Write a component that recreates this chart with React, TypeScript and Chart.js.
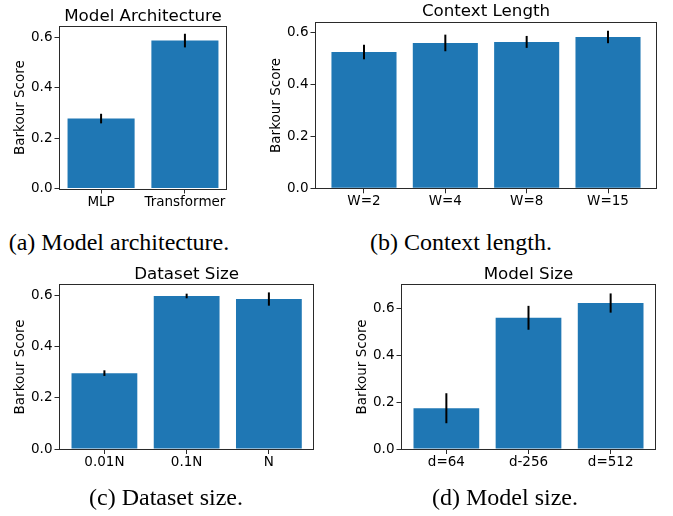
import React, { useEffect, useRef } from 'react';
import { Chart, registerables } from 'chart.js';

Chart.register(...registerables);
Chart.defaults.font.family = 'DejaVu Sans';

// ---- data ----
const archLabels = ['MLP', 'Transformer'];
const archValues = [0.277, 0.586];
const archErrors = [0.019, 0.027];

const ctxLabels = ['W=2', 'W=4', 'W=8', 'W=15'];
const ctxValues = [0.525, 0.56, 0.564, 0.583];
const ctxErrors = [0.028, 0.032, 0.023, 0.024];

const dataLabels = ['0.01N', '0.1N', 'N'];
const dataValues = [0.297, 0.599, 0.587];
const dataErrors = [0.011, 0.009, 0.026];

const sizeLabels = ['d=64', 'd-256', 'd=512'];
const sizeValues = [0.174, 0.56, 0.623];
const sizeErrors = [0.064, 0.051, 0.041];

const yTicks = [0, 0.2, 0.4, 0.6];
const yLabel = 'Barkour Score';

const XH = 30;
const TICK_FONT = { size: 13.5, family: 'DejaVu Sans', lineHeight: 1.2 };
const TITLE_SIZE = 16.7;
const SPINE = '#2a2a2a';

type PanelCfg = {
  title: string;
  caption: string;
  labels: string[];
  values: number[];
  errors: number[];
  ymax: number;
  box: { x: number; y: number; w: number; h: number };
  plot: { L: number; T: number; R: number; B: number };
  titlePad: number;
  yTitlePad: number;
  capX: number;
  capBase: number;
};

const panels: PanelCfg[] = [
  {
    title: 'Model Architecture', caption: '(a) Model architecture.',
    labels: archLabels, values: archValues, errors: archErrors, ymax: 0.641,
    box: { x: 0, y: 0, w: 240, h: 228 }, plot: { L: 60, T: 26.7, R: 226, B: 188.5 },
    titlePad: 6.2, yTitlePad: 12, capX: 119, capBase: 250,
  },
  {
    title: 'Context Length', caption: '(b) Context length.',
    labels: ctxLabels, values: ctxValues, errors: ctxErrors, ymax: 0.638,
    box: { x: 245, y: 0, w: 428, h: 228 }, plot: { L: 316, T: 22.7, R: 656, B: 188.3 },
    titlePad: 1.2, yTitlePad: 23, capX: 461, capBase: 250,
  },
  {
    title: 'Dataset Size', caption: '(c) Dataset size.',
    labels: dataLabels, values: dataValues, errors: dataErrors, ymax: 0.642,
    box: { x: 0, y: 258, w: 330, h: 258 }, plot: { L: 60, T: 285, R: 313.3, B: 449 },
    titlePad: 6.6, yTitlePad: 12, capX: 166, capBase: 505,
  },
  {
    title: 'Model Size', caption: '(d) Model size.',
    labels: sizeLabels, values: sizeValues, errors: sizeErrors, ymax: 0.70,
    box: { x: 335, y: 258, w: 338, h: 258 }, plot: { L: 402, T: 285, R: 655, B: 449 },
    titlePad: 6.6, yTitlePad: 19.5, capX: 505, capBase: 505,
  },
];

const errorPlugin = {
  id: 'errbars',
  afterDatasetsDraw(chart: any, _args: any, opts: any) {
    const { ctx, scales } = chart;
    const vals: number[] = opts.values;
    const errs: number[] = opts.errors;
    ctx.save();
    ctx.strokeStyle = '#000';
    ctx.lineWidth = 2;
    vals.forEach((v, i) => {
      const x = scales.x.getPixelForValue(i);
      const y1 = scales.y.getPixelForValue(v - errs[i]);
      const y2 = scales.y.getPixelForValue(v + errs[i]);
      ctx.beginPath();
      ctx.moveTo(x, y1);
      ctx.lineTo(x, y2);
      ctx.stroke();
    });
    ctx.restore();
  },
};

const framePlugin = {
  id: 'frame',
  afterDraw(chart: any) {
    const { ctx, chartArea: a } = chart;
    ctx.save();
    ctx.strokeStyle = SPINE;
    ctx.lineWidth = 1;
    const l = Math.round(a.left) - 0.5;
    const t = Math.round(a.top) - 0.5;
    const r = Math.round(a.right) + 0.5;
    const b = Math.round(a.bottom) + 0.5;
    ctx.strokeRect(l, t, r - l, b - t);
    ctx.restore();
  },
};

function Panel({ p }: { p: PanelCfg }) {
  const ref = useRef<HTMLCanvasElement>(null);
  useEffect(() => {
    const { box, plot } = p;
    const n = p.labels.length;
    const span = n - 1 + 0.8;
    const xmin = -0.4 - 0.05 * span;
    const xmax = n - 1 + 0.4 + 0.05 * span;
    const titleLH = TITLE_SIZE * 1.2;
    const chart = new Chart(ref.current as HTMLCanvasElement, {
      type: 'bar',
      data: {
        datasets: [
          {
            data: p.values.map((v, i) => ({ x: i, y: v })),
            backgroundColor: '#1f77b4',
            borderWidth: 0,
            barPercentage: 0.8,
            categoryPercentage: 1,
          } as any,
        ],
      },
      options: {
        responsive: false,
        animation: false,
        devicePixelRatio: 1,
        layout: {
          padding: {
            left: 0,
            top: 0,
            right: box.x + box.w - plot.R,
            bottom: box.y + box.h - plot.B - XH,
          },
        },
        plugins: {
          legend: { display: false },
          tooltip: { enabled: false },
          title: {
            display: true,
            text: p.title,
            fullSize: false,
            color: '#000',
            font: { size: TITLE_SIZE, family: 'DejaVu Sans', weight: 'normal', lineHeight: 1.2 },
            padding: { top: p.titlePad, bottom: plot.T - box.y - p.titlePad - titleLH },
          },
          errbars: { values: p.values, errors: p.errors },
        } as any,
        scales: {
          x: {
            type: 'linear',
            min: xmin,
            max: xmax,
            offset: false,
            grid: { offset: false, drawOnChartArea: false, drawTicks: true, tickLength: 5, color: SPINE, lineWidth: 1 },
            border: { display: false },
            ticks: {
              autoSkip: false,
              maxRotation: 0,
              padding: 0.5,
              color: '#000',
              font: TICK_FONT,
              callback: (v: any) => p.labels[Math.round(Number(v))] ?? '',
            },
            afterBuildTicks: (s: any) => {
              s.ticks = p.labels.map((_, i) => ({ value: i }));
            },
            afterFit: (s: any) => {
              s.height = XH;
            },
          },
          y: {
            type: 'linear',
            min: 0,
            max: p.ymax,
            grid: { drawOnChartArea: false, drawTicks: true, tickLength: 5.5, color: SPINE, lineWidth: 1 },
            border: { display: false },
            ticks: {
              padding: 2,
              color: '#000',
              font: TICK_FONT,
              callback: (v: any) => Number(v).toFixed(1),
            },
            afterBuildTicks: (s: any) => {
              s.ticks = yTicks.map((v) => ({ value: v }));
            },
            afterFit: (s: any) => {
              s.width = plot.L - box.x;
            },
            title: {
              display: true,
              text: yLabel,
              color: '#000',
              font: { size: 13.5, family: 'DejaVu Sans', lineHeight: 1.2 },
              padding: { top: p.yTitlePad, bottom: 0 },
            },
          },
        } as any,
      },
      plugins: [errorPlugin, framePlugin],
    });
    return () => chart.destroy();
  }, [p]);
  return (
    <canvas
      ref={ref}
      width={p.box.w}
      height={p.box.h}
      style={{ position: 'absolute', left: p.box.x, top: p.box.y, width: p.box.w, height: p.box.h }}
    />
  );
}

export default function App() {
  return (
    <div style={{ position: 'fixed', left: 0, top: 0, width: 673, height: 516, background: '#fff', overflow: 'hidden' }}>
      {panels.map((p) => (
        <Panel key={p.title} p={p} />
      ))}
      {panels.map((p) => (
        <div
          key={p.caption}
          style={{
            position: 'absolute',
            left: p.capX - 200,
            width: 400,
            top: p.capBase - 20,
            textAlign: 'center',
            fontFamily: '"Liberation Serif", serif',
            fontSize: 24,
            lineHeight: '24px',
            color: '#000',
            whiteSpace: 'nowrap',
          }}
        >
          {p.caption}
        </div>
      ))}
    </div>
  );
}
